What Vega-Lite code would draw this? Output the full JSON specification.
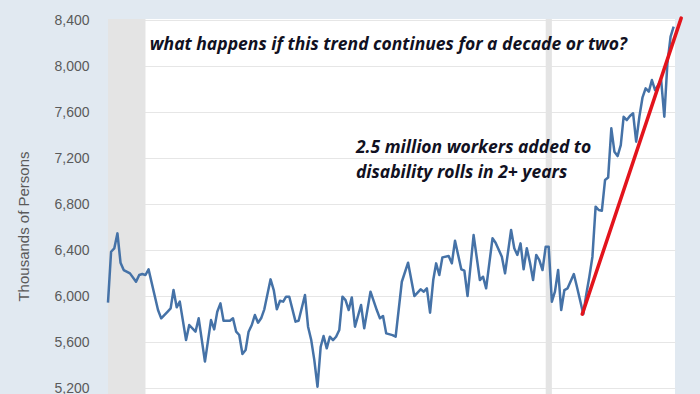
{
  "$schema": "https://vega.github.io/schema/vega-lite/v6.json",
  "width": 567,
  "height": 375,
  "autosize": {"type": "none"},
  "padding": {"left": 108, "top": 19, "right": 25, "bottom": 0},
  "background": "#e1e9f1",
  "config": {"view": {"stroke": null, "fill": "#ffffff"}},
  "datasets": {
    "series": [
      {"date": "2008-06-01", "value": 5942}, {"date": "2008-07-01", "value": 6385}, {"date": "2008-08-01", "value": 6414},
      {"date": "2008-09-01", "value": 6545}, {"date": "2008-10-01", "value": 6290}, {"date": "2008-11-01", "value": 6226},
      {"date": "2009-01-01", "value": 6197}, {"date": "2009-03-01", "value": 6124}, {"date": "2009-04-01", "value": 6183},
      {"date": "2009-05-01", "value": 6191}, {"date": "2009-06-01", "value": 6183}, {"date": "2009-07-01", "value": 6232},
      {"date": "2009-09-01", "value": 5994}, {"date": "2009-10-01", "value": 5878}, {"date": "2009-11-01", "value": 5806},
      {"date": "2010-01-01", "value": 5863}, {"date": "2010-02-01", "value": 5893}, {"date": "2010-03-01", "value": 6052},
      {"date": "2010-04-01", "value": 5902}, {"date": "2010-05-01", "value": 5951}, {"date": "2010-07-01", "value": 5617},
      {"date": "2010-08-01", "value": 5748}, {"date": "2010-10-01", "value": 5690}, {"date": "2010-11-01", "value": 5806},
      {"date": "2011-01-01", "value": 5430}, {"date": "2011-03-01", "value": 5791}, {"date": "2011-04-01", "value": 5710},
      {"date": "2011-05-01", "value": 5863}, {"date": "2011-06-01", "value": 5936}, {"date": "2011-07-01", "value": 5785},
      {"date": "2011-08-01", "value": 5785}, {"date": "2011-09-01", "value": 5785}, {"date": "2011-10-01", "value": 5806},
      {"date": "2011-11-01", "value": 5690}, {"date": "2011-12-01", "value": 5661}, {"date": "2012-01-01", "value": 5496},
      {"date": "2012-02-01", "value": 5530}, {"date": "2012-03-01", "value": 5690}, {"date": "2012-04-01", "value": 5748},
      {"date": "2012-05-01", "value": 5835}, {"date": "2012-06-01", "value": 5768}, {"date": "2012-07-01", "value": 5806},
      {"date": "2012-08-01", "value": 5884}, {"date": "2012-10-01", "value": 6145}, {"date": "2012-11-01", "value": 6052},
      {"date": "2012-12-01", "value": 5884}, {"date": "2013-01-01", "value": 5959}, {"date": "2013-02-01", "value": 5951},
      {"date": "2013-03-01", "value": 5994}, {"date": "2013-04-01", "value": 5994}, {"date": "2013-06-01", "value": 5777},
      {"date": "2013-07-01", "value": 5785}, {"date": "2013-09-01", "value": 6009}, {"date": "2013-10-01", "value": 5733},
      {"date": "2013-11-01", "value": 5617}, {"date": "2013-12-01", "value": 5443}, {"date": "2014-01-01", "value": 5211},
      {"date": "2014-02-01", "value": 5559}, {"date": "2014-03-01", "value": 5652}, {"date": "2014-04-01", "value": 5545},
      {"date": "2014-05-01", "value": 5646}, {"date": "2014-06-01", "value": 5617}, {"date": "2014-07-01", "value": 5646},
      {"date": "2014-08-01", "value": 5704}, {"date": "2014-09-01", "value": 5994}, {"date": "2014-10-01", "value": 5965},
      {"date": "2014-11-01", "value": 5878}, {"date": "2014-12-01", "value": 5988}, {"date": "2015-01-01", "value": 5733},
      {"date": "2015-03-01", "value": 5922}, {"date": "2015-04-01", "value": 5719}, {"date": "2015-06-01", "value": 6038},
      {"date": "2015-08-01", "value": 5878}, {"date": "2015-09-01", "value": 5806}, {"date": "2015-10-01", "value": 5826},
      {"date": "2015-11-01", "value": 5675}, {"date": "2016-01-01", "value": 5660}, {"date": "2016-02-01", "value": 5646},
      {"date": "2016-04-01", "value": 6124}, {"date": "2016-06-01", "value": 6290}, {"date": "2016-08-01", "value": 6000},
      {"date": "2016-10-01", "value": 6058}, {"date": "2016-11-01", "value": 6038}, {"date": "2016-12-01", "value": 6067},
      {"date": "2017-01-01", "value": 5855}, {"date": "2017-02-01", "value": 6139}, {"date": "2017-03-01", "value": 6284},
      {"date": "2017-04-01", "value": 6183}, {"date": "2017-05-01", "value": 6336}, {"date": "2017-07-01", "value": 6348},
      {"date": "2017-08-01", "value": 6284}, {"date": "2017-09-01", "value": 6481}, {"date": "2017-11-01", "value": 6232},
      {"date": "2017-12-01", "value": 6220}, {"date": "2018-01-01", "value": 6000}, {"date": "2018-03-01", "value": 6530},
      {"date": "2018-05-01", "value": 6139}, {"date": "2018-06-01", "value": 6168}, {"date": "2018-07-01", "value": 6067},
      {"date": "2018-09-01", "value": 6502}, {"date": "2018-10-01", "value": 6464}, {"date": "2018-12-01", "value": 6342},
      {"date": "2019-01-01", "value": 6197}, {"date": "2019-03-01", "value": 6574}, {"date": "2019-04-01", "value": 6415},
      {"date": "2019-05-01", "value": 6357}, {"date": "2019-06-01", "value": 6458}, {"date": "2019-07-01", "value": 6232},
      {"date": "2019-08-01", "value": 6415}, {"date": "2019-09-01", "value": 6290}, {"date": "2019-10-01", "value": 6139},
      {"date": "2019-11-01", "value": 6357}, {"date": "2019-12-01", "value": 6313}, {"date": "2020-01-01", "value": 6226},
      {"date": "2020-02-01", "value": 6429}, {"date": "2020-03-01", "value": 6429}, {"date": "2020-04-01", "value": 5951},
      {"date": "2020-05-01", "value": 6038}, {"date": "2020-06-01", "value": 6226}, {"date": "2020-07-01", "value": 5878},
      {"date": "2020-08-01", "value": 6052}, {"date": "2020-09-01", "value": 6067}, {"date": "2020-11-01", "value": 6191},
      {"date": "2020-12-01", "value": 6081}, {"date": "2021-02-01", "value": 5843}, {"date": "2021-03-01", "value": 6010},
      {"date": "2021-04-01", "value": 6168}, {"date": "2021-05-01", "value": 6342}, {"date": "2021-06-01", "value": 6777},
      {"date": "2021-07-01", "value": 6748}, {"date": "2021-08-01", "value": 6742}, {"date": "2021-09-01", "value": 7009},
      {"date": "2021-10-01", "value": 7030}, {"date": "2021-11-01", "value": 7458}, {"date": "2021-12-01", "value": 7255},
      {"date": "2022-01-01", "value": 7217}, {"date": "2022-02-01", "value": 7313}, {"date": "2022-03-01", "value": 7559},
      {"date": "2022-04-01", "value": 7530}, {"date": "2022-05-01", "value": 7565}, {"date": "2022-06-01", "value": 7589},
      {"date": "2022-07-01", "value": 7342}, {"date": "2022-08-01", "value": 7559}, {"date": "2022-09-01", "value": 7728},
      {"date": "2022-10-01", "value": 7806}, {"date": "2022-11-01", "value": 7777}, {"date": "2022-12-01", "value": 7878},
      {"date": "2023-01-01", "value": 7791}, {"date": "2023-03-01", "value": 7878}, {"date": "2023-04-01", "value": 7559},
      {"date": "2023-05-01", "value": 8023}, {"date": "2023-06-01", "value": 8255}, {"date": "2023-07-01", "value": 8342}
    ],
    "recessions": [
      {"start": "2008-06-01", "end": "2009-06-01"},
      {"start": "2020-02-01", "end": "2020-04-01"}
    ],
    "trend": [
      {"date": "2021-01-22", "value": 5843},
      {"date": "2023-09-12", "value": 8417}
    ],
    "notes": [
      {"date": "2009-07-13", "value": 8183, "label": "what happens if this trend continues for a decade or two?"},
      {"date": "2015-01-10", "value": 7287, "label": "2.5 million workers added to"},
      {"date": "2015-01-10", "value": 7072, "label": "disability rolls in 2+ years"}
    ]
  },
  "layer": [
    {
      "data": {"name": "recessions"},
      "mark": {"type": "rect", "color": "#e4e4e4"},
      "encoding": {
        "x": {"field": "start", "type": "temporal", "axis": null,
              "scale": {"domain": [{"year": 2008, "month": 6, "date": 1}, {"year": 2023, "month": 7, "date": 14}]}},
        "x2": {"field": "end"}
      }
    },
    {
      "data": {"name": "series"},
      "mark": {"type": "line", "color": "#4572a7", "strokeWidth": 2.5, "strokeJoin": "round"},
      "encoding": {
        "x": {"field": "date", "type": "temporal"},
        "y": {"field": "value", "type": "quantitative",
              "scale": {"domain": [5148, 8409], "nice": false, "zero": false},
              "axis": {
                "values": [5200, 5600, 6000, 6400, 6800, 7200, 7600, 8000, 8400],
                "format": ",.0f",
                "title": "Thousands of Persons",
                "titleFont": "Liberation Sans", "titleFontSize": 15, "titleFontWeight": "normal", "titleColor": "#5a5a5a",
                "titleAngle": -90, "titleX": -85, "titleY": 207, "titleAlign": "center", "titleBaseline": "middle",
                "labelFont": "Liberation Sans", "labelFontSize": 14, "labelColor": "#5a5a5a",
                "labelPadding": 19, "ticks": false, "tickSize": 0, "domain": false,
                "grid": true, "gridColor": "#e6e6e6", "gridWidth": 1
              }}
      }
    },
    {
      "data": {"name": "trend"},
      "mark": {"type": "line", "color": "#e3141c", "strokeWidth": 3.5, "strokeCap": "round"},
      "encoding": {
        "x": {"field": "date", "type": "temporal"},
        "y": {"field": "value", "type": "quantitative"}
      }
    },
    {
      "data": {"name": "notes"},
      "mark": {"type": "text", "align": "left", "baseline": "middle", "font": "Open Sans", "fontSize": 17.5,
               "fontStyle": "italic", "fontWeight": "bold", "color": "#111122"},
      "encoding": {
        "x": {"field": "date", "type": "temporal"},
        "y": {"field": "value", "type": "quantitative"},
        "text": {"field": "label"}
      }
    }
  ]
}
